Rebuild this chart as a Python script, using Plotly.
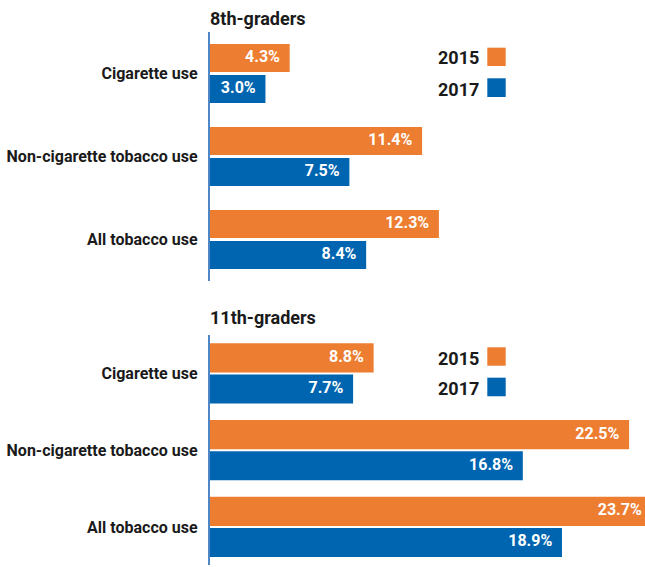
import plotly.graph_objects as go
from plotly.subplots import make_subplots

categories = ["Cigarette use", "Non-cigarette tobacco use", "All tobacco use"]
panels = ["8th-graders", "11th-graders"]
years = ["2015", "2017"]
grade8_2015 = [4.3, 11.4, 12.3]
grade8_2017 = [3.0, 7.5, 8.4]
grade11_2015 = [8.8, 22.5, 23.7]
grade11_2017 = [7.7, 16.8, 18.9]

ORANGE = "#ED7D31"
BLUE = "#0065B0"
FONT = "Roboto, Liberation Sans, sans-serif"

W, H = 645, 567
x0 = 209.5 / W
px_per_unit = 18.65
xmax = (W - 209.5) / px_per_unit
positions = list(range(len(categories)))

fig = make_subplots(rows=2, cols=1, vertical_spacing=0.0)

series = [
    (1, grade8_2015, grade8_2017, 28 / 83, 3 / 83),
    (2, grade11_2015, grade11_2017, 29 / 76.5, 2 / 76.5),
]
for row, v15, v17, w, g in series:
    for vals, color, name, off in [
        (v15, ORANGE, years[0], -(w + g / 2)),
        (v17, BLUE, years[1], g / 2),
    ]:
        fig.add_trace(
            go.Bar(
                x=vals, y=positions, orientation="h", name=name,
                marker=dict(color=color, line=dict(width=0)),
                width=w, offset=off,
                showlegend=False, hoverinfo="skip",
            ),
            row=row, col=1,
        )
        # value labels, right-aligned inside the end of each bar
        fig.add_trace(
            go.Scatter(
                x=vals, y=[p + off + w / 2 for p in positions],
                mode="markers+text", text=[f"{v:.1f}%" for v in vals],
                textposition="middle left",
                textfont=dict(family=FONT, size=16, color="white", weight="bold"),
                marker=dict(size=14, opacity=0),
                showlegend=False, hoverinfo="skip",
            ),
            row=row, col=1,
        )

fig.update_layout(
    width=W, height=H, margin=dict(l=0, r=0, t=0, b=0),
    plot_bgcolor="white", paper_bgcolor="white",
    barmode="overlay", showlegend=False,
    font=dict(family=FONT, color="#1a1a1a"),
    xaxis=dict(domain=[x0, 1], range=[0, xmax]),
    xaxis2=dict(domain=[x0, 1], range=[0, xmax]),
    yaxis=dict(domain=[1 - 281 / H, 1 - 32 / H]),
    yaxis2=dict(domain=[0.003, 1 - 335 / H]),
)
fig.update_xaxes(showgrid=False, zeroline=False, showline=False, showticklabels=False,
                 ticks="", automargin=False)
fig.update_yaxes(
    range=[len(categories) - 0.5, -0.5], showgrid=False, zeroline=False, automargin=False,
    tickmode="array", tickvals=positions, ticktext=categories,
    showline=True, linecolor="#4F86C6", linewidth=1.5,
    ticks="", ticklabelstandoff=7,
    tickfont=dict(family=FONT, size=16, color="#1a1a1a", weight="bold"),
)

# panel titles
for i, t in enumerate(panels):
    ysuffix = "" if i == 0 else "2"
    fig.add_annotation(
        text=t, xref=f"x{ysuffix} domain", yref=f"y{ysuffix} domain",
        x=0, y=1, xanchor="left", yanchor="bottom", yshift=[1, 5][i], xshift=-2,
        showarrow=False, font=dict(family=FONT, size=18, color="#1a1a1a", weight="bold"),
    )

# legends (one per panel)
legend_rows = [
    [(0.9159, 0.8836, 0.8986), (0.8619, 0.8289, 0.843)],
    [(0.3875, 0.3550, 0.3677), (0.3339, 0.3011, 0.3143)],
]
for panel in legend_rows:
    for (ytop, ybot, ytxt), color, name in zip(panel, [ORANGE, BLUE], years):
        fig.add_shape(type="rect", xref="paper", yref="paper",
                      x0=487.3 / W, x1=505.7 / W, y0=ybot, y1=ytop,
                      fillcolor=color, line=dict(width=0))
        fig.add_annotation(text=name, xref="paper", yref="paper",
                           x=481 / W, y=ytxt, xanchor="right", yanchor="middle",
                           showarrow=False,
                           font=dict(family=FONT, size=18, color="#1a1a1a", weight="bold"))

fig.write_html("out.html", config={"displayModeBar": False},
               post_script="document.body.style.margin='0';document.body.style.overflow='hidden';")
